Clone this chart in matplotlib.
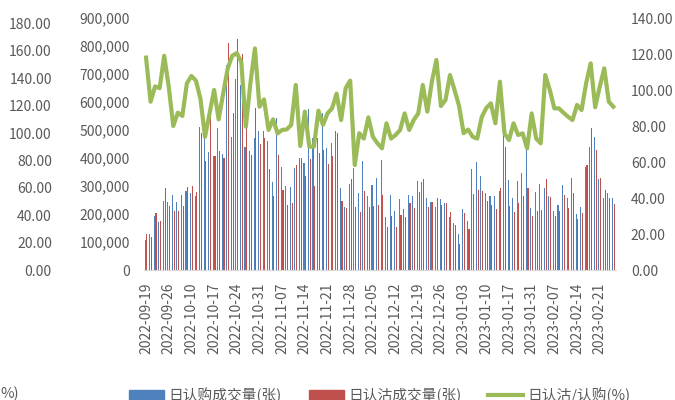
import matplotlib
matplotlib.use("Agg")
import matplotlib.pyplot as plt
from matplotlib.patches import Patch
from matplotlib.lines import Line2D
from matplotlib.ticker import FuncFormatter
import numpy as np
import pandas as pd

plt.rcParams['font.family'] = ['Noto Sans CJK SC', 'DejaVu Sans']

# trading days 2022-09-19 .. 2023-02-24
holidays = ['2022-10-03', '2022-10-04', '2022-10-05', '2022-10-06', '2022-10-07',
            '2023-01-02', '2023-01-23', '2023-01-24', '2023-01-25', '2023-01-26',
            '2023-01-27']
days = pd.bdate_range('2022-09-19', '2023-02-24')
days = days[~days.isin(pd.to_datetime(holidays))]
dates = [d.strftime('%Y-%m-%d') for d in days]

# 日认购成交量(张)
call_vol = [107000, 127000, 194000, 171000, 246000, 242000, 267000, 242000, 267000, 283000,
            276000, 264000, 510000, 476000, 420000, 408000, 506000, 414000, 732000, 476000,
            681000, 661000, 440000, 425000, 470000, 496000, 496000, 462000, 313000, 542000,
            368000, 300000, 298000, 366000, 401000, 381000, 574000, 470000, 470000, 560000,
            436000, 452000, 496000, 292000, 226000, 307000, 366000, 274000, 390000, 265000,
            304000, 327000, 393000, 190000, 268000, 211000, 254000, 217000, 268000, 264000,
            317000, 313000, 256000, 242000, 224000, 252000, 240000, 190000, 167000, 127000,
            217000, 175000, 361000, 387000, 336000, 276000, 264000, 264000, 283000, 482000,
            321000, 256000, 319000, 345000, 440000, 223000, 280000, 307000, 294000, 264000,
            212000, 232000, 304000, 256000, 327000, 200000, 226000, 367000, 438000, 476000,
            325000, 256000, 274000, 256000]

# 日认沽成交量(张)
put_vol = [127000, 117000, 202000, 175000, 293000, 229000, 212000, 212000, 229000, 296000,
           300000, 280000, 489000, 389000, 550000, 407000, 425000, 401000, 810000, 560000,
           824000, 771000, 506000, 411000, 580000, 449000, 473000, 361000, 264000, 412000,
           287000, 231000, 238000, 374000, 400000, 337000, 395000, 300000, 419000, 429000,
           379000, 408000, 488000, 246000, 223000, 324000, 226000, 208000, 283000, 226000,
           229000, 232000, 268000, 155000, 193000, 155000, 196000, 190000, 240000, 220000,
           277000, 324000, 226000, 242000, 258000, 232000, 238000, 208000, 161000, 92000,
           202000, 145000, 271000, 286000, 283000, 246000, 232000, 217000, 292000, 440000,
           229000, 208000, 240000, 264000, 294000, 193000, 211000, 214000, 324000, 260000,
           193000, 211000, 268000, 220000, 274000, 181000, 202000, 375000, 506000, 429000,
           327000, 286000, 256000, 236000]

# 日认沽/认购(%)
ratio = [118.0, 93.5, 102.0, 101.0, 119.0, 101.8, 80.0, 87.4, 85.6, 103.7,
         107.8, 105.2, 95.0, 74.0, 87.0, 100.0, 83.7, 98.0, 112.0, 119.0,
         120.5, 115.5, 79.6, 103.7, 123.1, 90.7, 94.8, 77.8, 83.7, 75.9,
         77.8, 78.1, 80.6, 102.8, 68.9, 88.0, 68.5, 68.5, 88.5, 80.6,
         87.0, 89.8, 98.0, 83.3, 101.0, 105.2, 58.3, 76.0, 73.0, 84.8,
         74.0, 70.4, 67.6, 81.5, 73.0, 75.0, 77.8, 87.0, 77.8, 83.3,
         87.0, 102.8, 88.0, 104.6, 116.7, 91.1, 94.4, 108.3, 100.0, 91.1,
         76.0, 78.0, 74.0, 73.0, 85.0, 90.0, 92.6, 81.5, 104.6, 75.9,
         72.2, 81.5, 75.0, 75.9, 67.6, 87.0, 73.0, 70.4, 108.3, 100.0,
         89.8, 89.8, 87.4, 85.2, 83.3, 91.7, 88.9, 103.7, 114.8, 90.4,
         101.8, 112.0, 93.5, 90.7]

labels = ['日认购成交量(张)', '日认沽成交量(张)', '日认沽/认购(%)']
grey = '#595959'

fig = plt.figure(figsize=(6.75, 4), dpi=100)
ax = fig.add_axes([0.213, 0.325, 0.699, 0.63])
x = np.arange(len(dates))

ax.bar(x - 0.19, call_vol, width=0.24, color='#4F81BD')
ax.bar(x + 0.19, put_vol, width=0.24, color='#C0504D')
ax.set_xlim(-0.5, len(dates) - 0.5)
ax.set_ylim(0, 900000)
ax.set_yticks(range(0, 900001, 100000))
ax.yaxis.set_major_formatter(FuncFormatter(lambda v, p: f'{int(v):,}'))
ax.set_xticks(x[::5])
ax.set_xticklabels(dates[::5], rotation=90)
for s in ['top', 'left', 'right']:
    ax.spines[s].set_visible(False)
ax.spines['bottom'].set_color('#D9D9D9')
ax.tick_params(length=0, colors=grey, labelsize=10)
ax.tick_params(axis='y', pad=10)
ax.tick_params(axis='x', pad=9)

ax2 = ax.twinx()
ax2.plot(x, ratio, color='#9BBB59', lw=3, solid_joinstyle='round')
ax2.set_ylim(0, 140)
ax2.set_yticks(range(0, 141, 20))
ax2.yaxis.set_major_formatter(FuncFormatter(lambda v, p: f'{v:.2f}'))
for s in ax2.spines.values():
    s.set_visible(False)
ax2.tick_params(length=0, colors=grey, labelsize=10, pad=11)

# leftover left-hand percent axis
ax3 = ax.twinx()
ax3.set_ylim(0, 184)
ax3.set_yticks(range(0, 181, 20))
ax3.yaxis.set_major_formatter(FuncFormatter(lambda v, p: f'{v:.2f}'))
ax3.yaxis.tick_left()
ax3.spines['left'].set_position(('axes', -0.186))
for s in ax3.spines.values():
    s.set_visible(False)
ax3.tick_params(length=0, colors=grey, labelsize=10, pad=3)

handles = [Patch(color='#4F81BD'), Patch(color='#C0504D'),
           Line2D([0], [0], color='#9BBB59', lw=3)]
leg = fig.legend(handles, labels, loc='center', bbox_to_anchor=(0.563, 0.012),
                 ncol=3, frameon=False, fontsize=10.6, handlelength=2.4,
                 columnspacing=1.8, handletextpad=0.3)
for t in leg.get_texts():
    t.set_color(grey)
fig.text(0.0, 0.015, '%)', va='center', ha='left', fontsize=10.6, color=grey)

fig.savefig('out.png', dpi=100)
